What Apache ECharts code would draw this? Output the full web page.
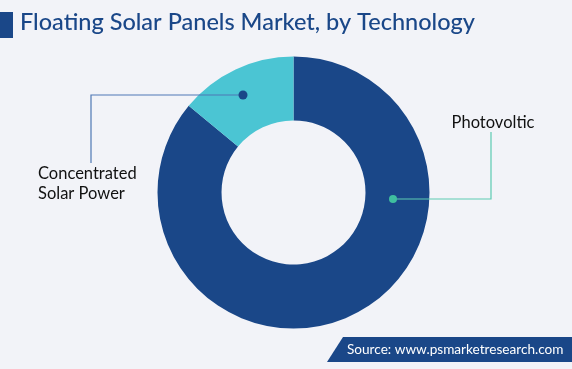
<!DOCTYPE html>
<html><head><meta charset="utf-8">
<script src="https://cdn.jsdelivr.net/npm/echarts@6/dist/echarts.min.js"></script>
<style>html,body{margin:0;padding:0;background:#f2f3f8}#c{width:572px;height:369px}</style>
</head><body><div id="c"></div>
<script>
const titleText = 'Floating Solar Panels Market, by Technology';
const categories = ['Photovoltic', 'Concentrated\nSolar Power'];
const shares = [86, 14];
const colors = ['#1a4788', '#4bc5d3'];
const sourceText = 'Source: www.psmarketresearch.com';

const chart = echarts.init(document.getElementById('c'), null, {renderer: 'canvas'});
const F = 'Lato, "DejaVu Sans", sans-serif';
chart.setOption({
  backgroundColor: '#f2f3f8',
  animation: false,
  series: [{
    type: 'pie',
    center: [293.5, 192.5],
    radius: [72, 136],
    startAngle: 90,
    clockwise: true,
    z: 1,
    label: {show: false},
    labelLine: {show: false},
    emphasis: {disabled: true},
    data: categories.map((c, i) => ({name: c, value: shares[i], itemStyle: {color: colors[i]}}))
  }],
  graphic: {
    elements: [
      {type: 'rect', z: 100, shape: {x: 0, y: 12, width: 13, height: 26}, style: {fill: '#1a4788'}},
      {type: 'text', z: 100, left: 20, top: 10, style: {text: titleText, fill: '#1a4788', font: '500 23.5px ' + F}},
      {type: 'polyline', z: 100, shape: {points: [[393, 199], [491, 199], [491, 132]]}, style: {stroke: '#5ccbb2', lineWidth: 1.2, fill: null}},
      {type: 'circle', z: 101, shape: {cx: 393, cy: 199, r: 4}, style: {fill: '#3fbf9f'}},
      {type: 'text', z: 100, x: 493, y: 123, style: {text: categories[0], fill: '#111', font: '16.5px ' + F, align: 'center', verticalAlign: 'middle'}},
      {type: 'polyline', z: 100, shape: {points: [[243, 95], [91, 95], [91, 163]]}, style: {stroke: '#4f79b5', lineWidth: 1.2, fill: null}},
      {type: 'circle', z: 101, shape: {cx: 243, cy: 95, r: 4.5}, style: {fill: '#1a4788'}},
      {type: 'text', z: 100, x: 38, y: 164, style: {text: categories[1], fill: '#111', font: '16.5px ' + F, lineHeight: 20, align: 'left', verticalAlign: 'top'}},
      {type: 'polygon', z: 100, shape: {points: [[343, 337], [572, 337], [572, 362], [327, 362]]}, style: {fill: '#1a4788'}},
      {type: 'text', z: 101, x: 347, y: 350, style: {text: sourceText, fill: '#fff', font: '13.6px ' + F, verticalAlign: 'middle'}}
    ]
  }
});
</script></body></html>
